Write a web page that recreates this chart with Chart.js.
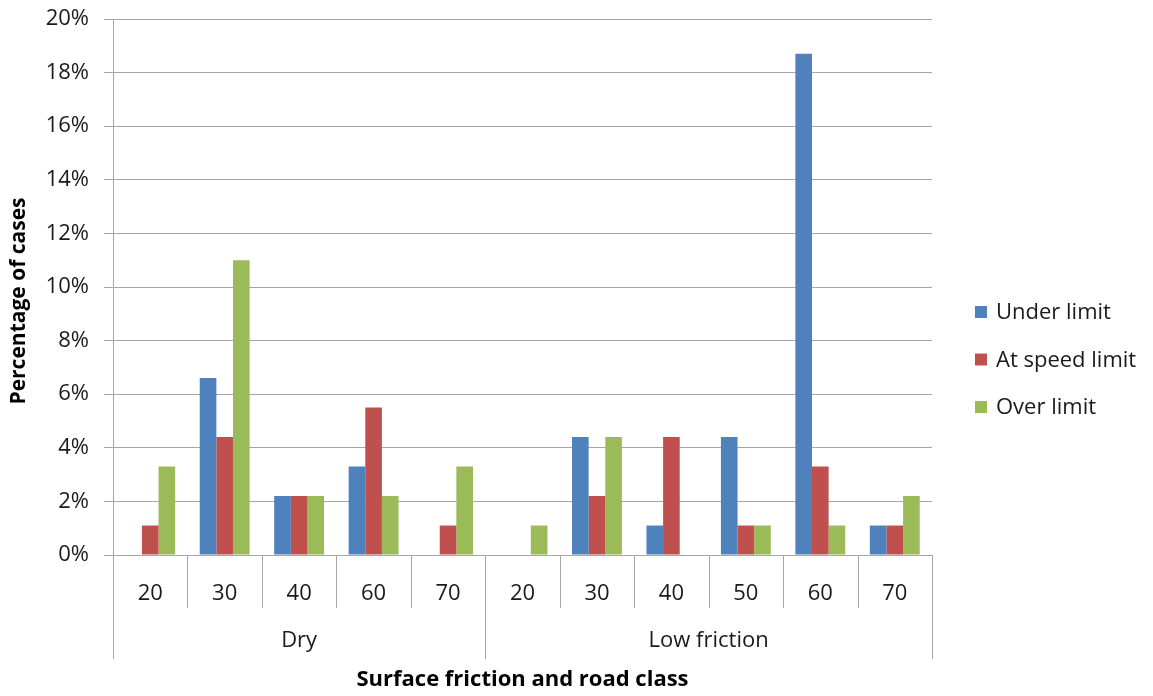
<!DOCTYPE html>
<html>
<head>
<meta charset="utf-8">
<script src="https://cdn.jsdelivr.net/npm/chart.js@4/dist/chart.umd.min.js"></script>
<style>
  html, body { margin: 0; padding: 0; background: #fff; }
  #c { display: block; }
</style>
</head>
<body>
<canvas id="c" width="1153" height="696"></canvas>
<script>
// ข้อมูลของกราฟ
var categories = ['20', '30', '40', '60', '70', '20', '30', '40', '50', '60', '70'];
var groupNames = ['Dry', 'Low friction'];
var groupSizes = [5, 6];
var underLimit = [0, 6.6, 2.2, 3.3, 0, 0, 4.4, 1.1, 4.4, 18.7, 1.1];
var atSpeedLimit = [1.1, 4.4, 2.2, 5.5, 1.1, 0, 2.2, 4.4, 1.1, 3.3, 1.1];
var overLimit = [3.3, 11.0, 2.2, 2.2, 3.3, 1.1, 4.4, 0, 1.1, 1.1, 2.2];
var yTickValues = [0, 2, 4, 6, 8, 10, 12, 14, 16, 18, 20];

var FONT = '"Open Sans", Lato, sans-serif';
var GRID = '#a6a6a6';
var TEXT = '#1a1a1a';

// วาดเส้นแบ่งหมวด ป้ายกลุ่ม ชื่อแกน และคำอธิบาย
var decorPlugin = {
    id: 'decor',
    afterDraw: function(chart) {
        var ctx = chart.ctx;
        var x = chart.scales.x;
        var area = chart.chartArea;
        var n = categories.length;
        var step = (area.right - area.left) / n;

        ctx.save();
        ctx.strokeStyle = GRID;
        ctx.lineWidth = 1;

        // เส้นแบ่งหมวดย่อย
        for (var i = 0; i <= n; i++) {
            var bx = Math.round(x.getPixelForValue(i) - step / 2) + 0.5;
            ctx.beginPath();
            ctx.moveTo(bx, area.bottom);
            ctx.lineTo(bx, area.bottom + 53);
            ctx.stroke();
        }

        // เส้นแบ่งกลุ่มและป้ายกลุ่ม
        var start = 0;
        ctx.fillStyle = TEXT;
        ctx.font = '22px ' + FONT;
        ctx.textAlign = 'center';
        ctx.textBaseline = 'middle';
        for (var g = 0; g <= groupSizes.length; g++) {
            var gx = Math.round(x.getPixelForValue(start) - step / 2) + 0.5;
            ctx.beginPath();
            ctx.moveTo(gx, area.bottom);
            ctx.lineTo(gx, area.bottom + 104);
            ctx.stroke();
            if (g < groupSizes.length) {
                var left = x.getPixelForValue(start) - step / 2;
                var right = x.getPixelForValue(start + groupSizes[g] - 1) + step / 2;
                ctx.fillText(groupNames[g], (left + right) / 2, area.bottom + 86);
                start += groupSizes[g];
            }
        }

        // ชื่อแกน
        ctx.font = 'bold 22px ' + FONT;
        ctx.fillStyle = '#000';
        ctx.fillText('Surface friction and road class', (area.left + area.right) / 2, 680);
        ctx.save();
        ctx.translate(19, (area.top + area.bottom) / 2 + 14);
        ctx.rotate(-Math.PI / 2);
        ctx.font = 'bold 21px ' + FONT;
        ctx.fillText('Percentage of cases', 0, 0);
        ctx.restore();

        // คำอธิบายสัญลักษณ์
        ctx.font = '22px ' + FONT;
        ctx.textAlign = 'left';
        chart.data.datasets.forEach(function(ds, k) {
            var ly = 312 + k * 47.5;
            ctx.fillStyle = ds.backgroundColor;
            ctx.fillRect(975, ly - 6, 12, 12);
            ctx.fillStyle = TEXT;
            ctx.fillText(ds.label, 996, ly + 1);
        });
        ctx.restore();
    }
};

new Chart(document.getElementById('c'), {
    type: 'bar',
    data: {
        labels: categories,
        datasets: [
            { label: 'Under limit', data: underLimit, backgroundColor: '#4f81bd' },
            { label: 'At speed limit', data: atSpeedLimit, backgroundColor: '#c0504d' },
            { label: 'Over limit', data: overLimit, backgroundColor: '#9bbb59' }
        ]
    },
    options: {
        responsive: false,
        animation: false,
        devicePixelRatio: 1,
        categoryPercentage: 0.67,
        barPercentage: 1.0,
        layout: { padding: { top: 19, right: 221, left: 0, bottom: 0 } },
        plugins: {
            legend: { display: false },
            tooltip: { enabled: false }
        },
        scales: {
            x: {
                afterFit: function(scale) {
                    scale.height = 141;
                    scale.paddingLeft = 0;
                    scale.paddingRight = 0;
                },
                grid: { display: false },
                border: { display: true, color: GRID, width: 1 },
                ticks: {
                    color: TEXT,
                    font: { family: FONT, size: 22 },
                    padding: 18,
                    maxRotation: 0
                }
            },
            y: {
                min: 0,
                max: 20,
                afterFit: function(scale) {
                    scale.width = 113;
                    scale.paddingTop = 0;
                    scale.paddingBottom = 0;
                },
                afterBuildTicks: function(scale) {
                    scale.ticks = yTickValues.map(function(v) { return { value: v }; });
                },
                grid: { color: GRID, tickLength: 9, lineWidth: 1 },
                border: { display: true, color: GRID, width: 1 },
                ticks: {
                    color: TEXT,
                    padding: 15,
                    font: { family: FONT, size: 22 },
                    callback: function(v) { return v + '%'; }
                }
            }
        }
    },
    plugins: [decorPlugin]
});
</script>
</body>
</html>
